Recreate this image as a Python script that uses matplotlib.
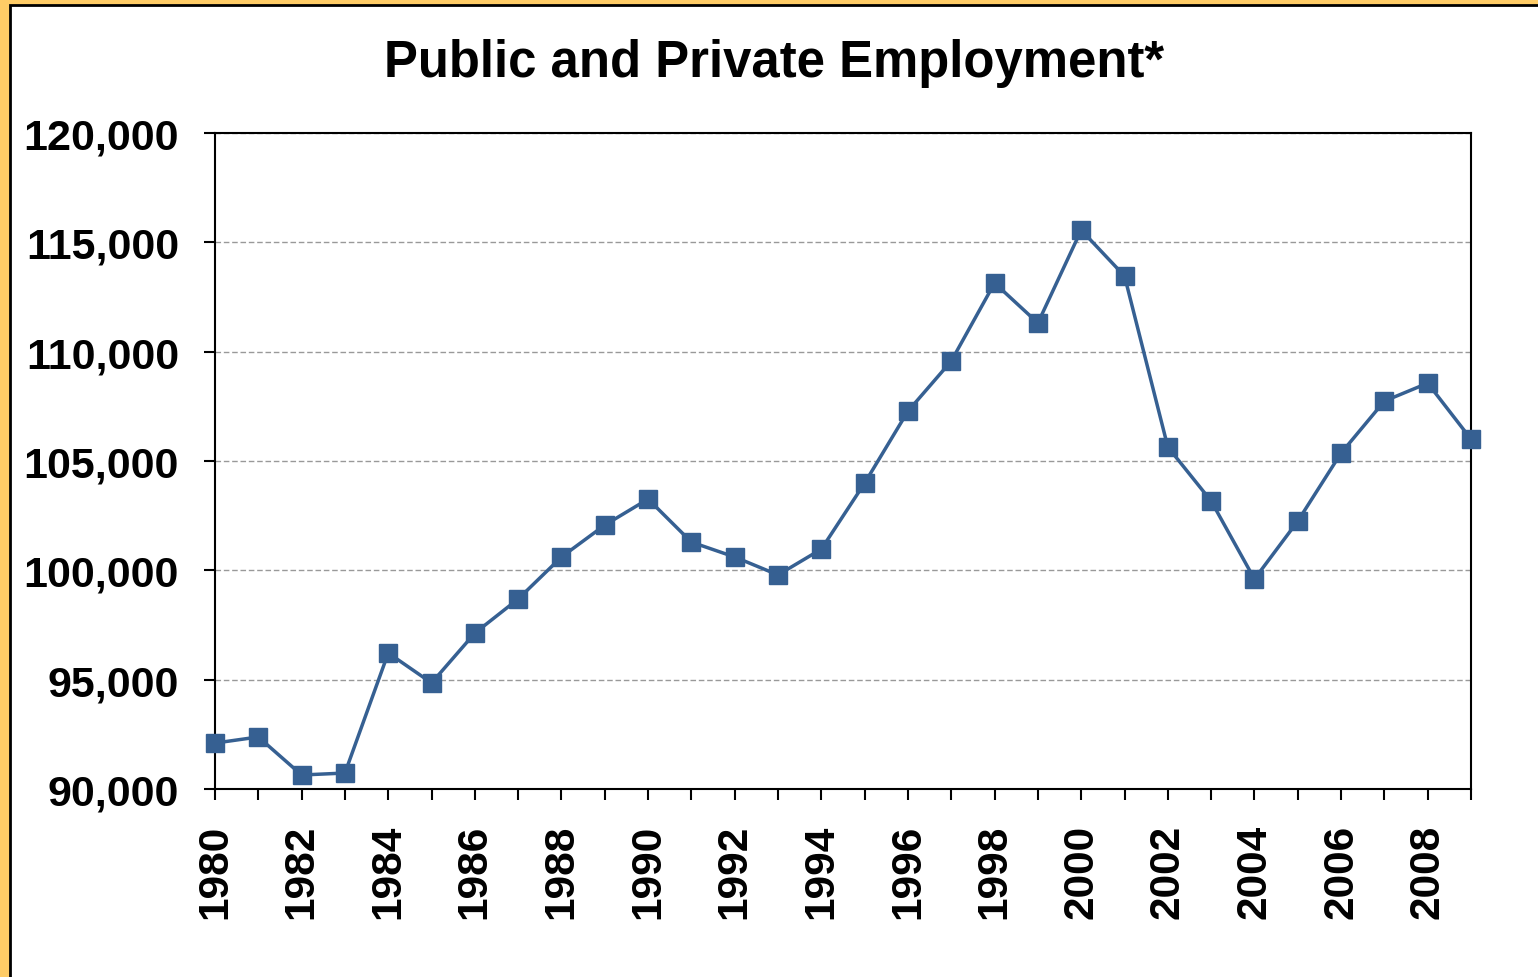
import matplotlib.pyplot as plt
from matplotlib.patches import Rectangle
from matplotlib.ticker import FuncFormatter, MultipleLocator

years = list(range(1980, 2010))
employment = [92100, 92380, 90640, 90730, 96220, 94850, 97130, 98690, 100610, 102070,
              103260, 101290, 100610, 99790, 100970, 103990, 107280, 109570, 113140, 111310,
              115560, 113460, 105640, 103170, 99600, 102250, 105360, 107740, 108560, 106000]

plt.rcParams['font.family'] = ['Liberation Sans', 'DejaVu Sans']
plt.rcParams['font.weight'] = 'bold'

fig = plt.figure(figsize=(15.38, 9.78), dpi=100)
fig.patch.set_facecolor('#FFCC66')
W, H = 1538, 978
# white chart area with black frame inside the orange border
fig.patches.append(Rectangle((10 / W, -0.1), 1.2, 1.1 - 6 / H, transform=fig.transFigure,
                             facecolor='white', edgecolor='black', linewidth=2, zorder=-1))

ax = fig.add_axes([215 / W, 1 - 790 / H, (1471 - 215) / W, (790 - 134) / H])
ax.set_zorder(1)
ax.plot(years, employment, color='#366092', linewidth=2.5, marker='s', markersize=13,
        clip_on=False, zorder=3)

ax.set_xlim(1980, 2009)
ax.set_ylim(90000, 120000)
ax.yaxis.set_major_locator(MultipleLocator(5000))
ax.yaxis.set_major_formatter(FuncFormatter(lambda v, p: f'{int(v):,}'))
ax.set_xticks(years)
ax.set_xticklabels([str(y) if y % 2 == 0 else '' for y in years], rotation=90)
ax.tick_params(axis='x', direction='out', length=8, width=1.5, labelsize=30.5, pad=17)
ax.tick_params(axis='y', direction='out', length=8, width=1.5, labelsize=31, pad=18)
ax.grid(axis='y', color='#999999', linestyle=(0, (4, 2)), linewidth=1)
for s in ax.spines.values():
    s.set_linewidth(1.5)
    s.set_color('black')

fig.text(0.503, 1 - 64 / H, 'Public and Private Employment*', ha='center', va='center',
         fontsize=36.6, fontweight='bold')

fig.savefig('out.png', dpi=100, facecolor=fig.get_facecolor())
